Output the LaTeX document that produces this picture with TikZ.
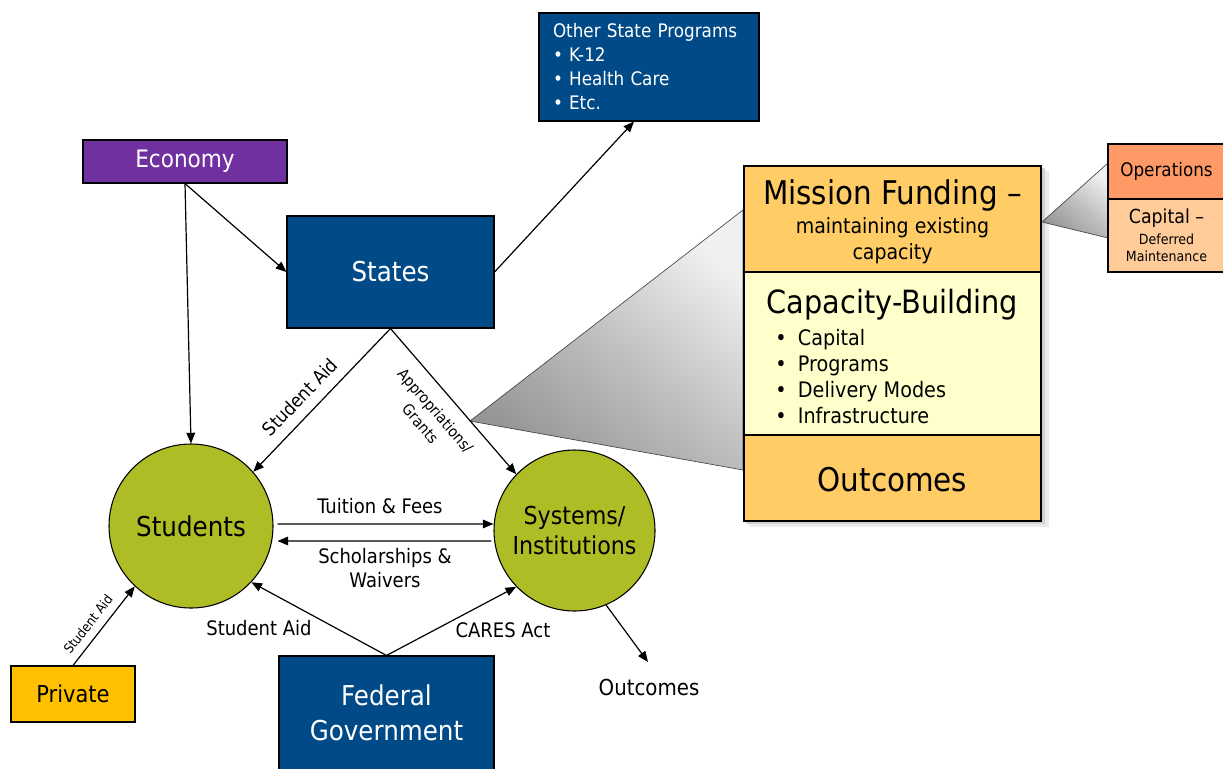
\documentclass[tikz,border=0pt]{standalone}
\usepackage{fontspec}
\setmainfont{DejaVu Sans Condensed}
\usetikzlibrary{arrows.meta,calc}
\definecolor{dblue}{RGB}{0,74,135}
\definecolor{purp}{RGB}{112,48,160}
\definecolor{olivegreen}{RGB}{174,189,37}
\definecolor{privyellow}{RGB}{255,192,0}
\definecolor{mustard}{RGB}{255,204,102}
\definecolor{paleyellow}{RGB}{255,255,204}
\definecolor{coral}{RGB}{255,153,102}
\definecolor{peach}{RGB}{255,204,153}
\definecolor{wdark}{RGB}{150,150,150}
\definecolor{wmid}{RGB}{192,192,192}
\definecolor{wlight}{RGB}{240,240,240}
\begin{document}
\begin{tikzpicture}[x=0.75pt,y=-0.75pt,
  box/.style={draw=black, line width=0.8pt, inner sep=0pt},
  circ/.style={circle, draw=black, line width=0.8pt, fill=olivegreen, inner sep=0pt},
  arr/.style={draw=black, line width=0.9pt, -{Triangle[length=8pt,width=6.5pt]}},
  lbl/.style={inner sep=0pt, font=\fontsize{15}{18}\selectfont},
  wedge/.style={draw=gray!55!black, line width=0.5pt, left color=wdark, right color=wlight, middle color=wmid, shading angle=140}]
\useasboundingbox (0,0) rectangle (1223,768);
\clip (0,0) rectangle (1223,768);

% gradient wedge (left)
\path[wedge] (470,421) -- (743,210) -- (743,470) -- cycle;

% shadow of big box
\fill[black!8] (749,171) rectangle (1049,527);
\fill[black!18] (746,168) rectangle (1045,524);

% gradient wedge (right)
\path[wedge] (1042,222) -- (1108,163) -- (1108,238) -- cycle;

% boxes
\node[box, fill=dblue, text=white, minimum width=165pt, minimum height=81pt,
  text width=144pt, inner xsep=10.5pt, align=left,
  font=\fontsize{14}{18}\selectfont] (other) at (649,67)
  {Other State Programs\\• K-12\\• Health Care\\• Etc.};
\node[box, fill=purp, text=white, minimum width=153pt, minimum height=32.25pt,
  font=\fontsize{18}{21}\selectfont] (economy) at (185,161.5) {Economy};
\node[box, fill=dblue, text=white, minimum width=155.25pt, minimum height=84pt,
  font=\fontsize{20.5}{24}\selectfont] (states) at (390.5,272) {States};
\node[circ, minimum size=123pt, font=\fontsize{20.5}{24}\selectfont] (students) at (191,526) {Students};
\node[circ, minimum size=120.75pt, align=center, font=\fontsize{18.5}{23}\selectfont] (systems) at (574.5,530.5) {Systems/\\Institutions};
\node[box, fill=dblue, text=white, minimum width=161.25pt, minimum height=85.5pt,
  align=center, font=\fontsize{20.5}{26}\selectfont] (federal) at (386.5,713) {Federal\\Government};
\node[box, fill=privyellow, minimum width=93pt, minimum height=42pt,
  font=\fontsize{17.5}{21}\selectfont] (private) at (73,694) {Private};

% big stacked box
\node[box, fill=mustard, minimum width=222.75pt, minimum height=79.5pt] (mission) at (892.5,219) {};
\node[box, fill=paleyellow, minimum width=222.75pt, minimum height=122.25pt] (capacity) at (892.5,353.5) {};
\node[box, fill=mustard, minimum width=222.75pt, minimum height=64.5pt] (outbox) at (892.5,478) {};
\node[inner sep=0pt, font=\fontsize{24.5}{28}\selectfont] (mftitle) at (892.5,195) {Mission Funding –};
\node[inner sep=0pt, align=center, font=\fontsize{15.8}{19.5}\selectfont] (mfsub) at (892.5,241) {maintaining existing\\capacity};
\node[inner sep=0pt, font=\fontsize{24}{28}\selectfont] (cbtitle) at (892.5,305) {Capacity-Building};
\node[inner sep=0pt, anchor=west, align=left, font=\fontsize{16}{19.5}\selectfont] (cblist) at (775,377)
  {\makebox[17pt][l]{•}Capital\\\makebox[17pt][l]{•}Programs\\\makebox[17pt][l]{•}Delivery Modes\\\makebox[17pt][l]{•}Infrastructure};
\node[inner sep=0pt, font=\fontsize{24.5}{28}\selectfont] (outtitle) at (892.5,480) {Outcomes};

% operations / capital
\node[box, fill=coral, minimum width=87.75pt, minimum height=41.25pt,
  font=\fontsize{14}{17}\selectfont] (ops) at (1166.5,171.5) {Operations};
\node[box, fill=peach, minimum width=87.75pt, minimum height=54.75pt] (capital) at (1166.5,235.5) {};
\node[inner sep=0pt, font=\fontsize{14.5}{17}\selectfont] (capt) at (1166.5,218) {Capital –};
\node[inner sep=0pt, align=center, font=\fontsize{10.5}{12.75}\selectfont] (capsub) at (1166.5,248) {Deferred\\Maintenance};

% connectors
\coordinate (outtip) at (648,662);
\draw[arr] (states.east) -- ([xshift=-11.25pt]other.south);
\draw[arr] (economy.south) -- (states.west);
\draw[arr] (economy.south) -- (students.north);
\draw[arr] (states.south) -- (students.41);
\draw[arr] (states.south) -- (systems.136);
\draw[arr] ([xshift=3pt,yshift=1.5pt]students.east) -- ([yshift=4.9pt]systems.west);
\draw[arr] ([xshift=-1.5pt,yshift=-7.9pt]systems.west) -- ([xshift=3pt,yshift=-11.25pt]students.east);
\draw[arr] (federal.north) -- (students.-43);
\draw[arr] (federal.north) -- (systems.-136);
\draw[arr] (private.north) -- (students.227);
\draw[arr] (systems.-67) -- (outtip);

% labels
\node[lbl, rotate=46, font=\fontsize{14}{18}\selectfont] (lsa1) at (300,397) {Student Aid};
\node[lbl, rotate=-49, align=center, font=\fontsize{11.5}{15}\selectfont] (lapp) at (428,417) {Appropriations/\\Grants};
\node[lbl] (ltf) at (380,506) {Tuition \& Fees};
\node[lbl, align=center] (lsw) at (385,568) {Scholarships \&\\Waivers};
\node[lbl] (lsa2) at (259,628) {Student Aid};
\node[lbl] (lcares) at (503,630) {CARES Act};
\node[lbl, rotate=52, font=\fontsize{10}{12}\selectfont] (lsa3) at (88,624) {Student Aid};
\node[lbl, font=\fontsize{16.5}{19}\selectfont] (outtext) at (649,687) {Outcomes};
\end{tikzpicture}
\end{document}
